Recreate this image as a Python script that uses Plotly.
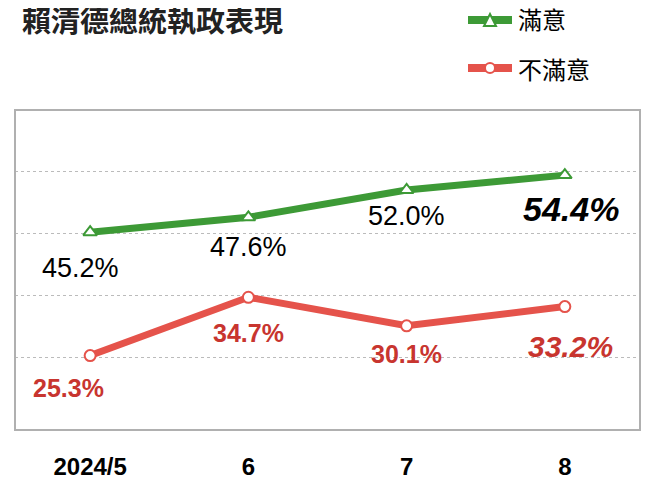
import plotly.graph_objects as go

months = ["2024/5", "6", "7", "8"]
satisfied = [45.2, 47.6, 52.0, 54.4]
unsatisfied = [25.3, 34.7, 30.1, 33.2]

GREEN = "#3d9a36"
RED = "#e5534b"
CJK = "Noto Sans CJK TC"

W, H = 656, 500
OFF = 8  # page body margin
L, T, PW, PH = 15 - OFF, 110 - OFF, 625, 320


def px(x):
    return (x - OFF - L) / PW


def py(y):
    return (T + PH - (y - OFF)) / PH


fig = go.Figure()
xi = list(range(len(months)))
fig.add_trace(go.Scatter(x=xi, y=satisfied, mode="lines+markers",
                         line=dict(color=GREEN, width=7),
                         marker=dict(symbol="triangle-up", size=12, color="white",
                                     line=dict(color=GREEN, width=2))))
fig.add_trace(go.Scatter(x=xi, y=unsatisfied, mode="lines+markers",
                         line=dict(color=RED, width=7),
                         marker=dict(symbol="circle", size=11, color="white",
                                     line=dict(color=RED, width=2))))

# value labels: (xshift, yshift) per point
sat_off = [(-10, -36), (0, -30), (0, -26), (6, -34)]
uns_off = [(-22, -32), (0, -36), (0, -28), (6, -40)]
for i, v in enumerate(satisfied):
    last = i == len(satisfied) - 1
    txt = f"<b><i>{v:.1f}%</i></b>" if last else f"{v:.1f}%"
    fig.add_annotation(x=i, y=v, text=txt, showarrow=False,
                       xshift=sat_off[i][0], yshift=sat_off[i][1],
                       font=dict(family="Arial", size=34 if last else 27, color="black"))
for i, v in enumerate(unsatisfied):
    last = i == len(unsatisfied) - 1
    txt = f"<b><i>{v:.1f}%</i></b>" if last else f"<b>{v:.1f}%</b>"
    fig.add_annotation(x=i, y=v, text=txt, showarrow=False,
                       xshift=uns_off[i][0], yshift=uns_off[i][1],
                       font=dict(family="Arial", size=30 if last else 25, color="#c8352f"))

# title
fig.add_annotation(xref="paper", yref="paper", x=px(20), y=py(45), xanchor="left",
                   yanchor="middle", yshift=26,
                   text="<b>賴清德總統執政表現</b>", showarrow=False,
                   font=dict(family=CJK, size=29, color="#222"))

# legend drawn by hand
shapes = [
    dict(type="rect", xref="paper", yref="paper", x0=0, x1=1, y0=0, y1=1,
         line=dict(color="#b0b0b0", width=2)),
    dict(type="line", xref="paper", yref="paper", x0=px(468), x1=px(512), y0=py(20), y1=py(20),
         line=dict(color=GREEN, width=8)),
    dict(type="line", xref="paper", yref="paper", x0=px(468), x1=px(512), y0=py(68), y1=py(68),
         line=dict(color=RED, width=8)),
    dict(type="path", xref="paper", yref="paper",
         path=f"M {px(484)} {py(26)} L {px(496)} {py(26)} L {px(490)} {py(14)} Z",
         fillcolor="white", line=dict(color=GREEN, width=2)),
    dict(type="circle", xref="paper", yref="paper", x0=px(485), x1=px(495), y0=py(73), y1=py(63),
         fillcolor="white", line=dict(color=RED, width=2)),
]
fig.add_annotation(xref="paper", yref="paper", x=px(516), y=py(20), xanchor="left", yshift=21,
                   text="滿意", showarrow=False, font=dict(family=CJK, size=24, color="black"))
fig.add_annotation(xref="paper", yref="paper", x=px(516), y=py(70), xanchor="left", yshift=21,
                   text="不滿意", showarrow=False, font=dict(family=CJK, size=24, color="black"))

fig.update_layout(
    width=W, height=H, shapes=shapes, showlegend=False,
    margin=dict(l=L, r=W - L - PW, t=T, b=H - T - PH),
    paper_bgcolor="white", plot_bgcolor="white",
    xaxis=dict(range=[-0.475, 3.475], tickvals=xi, ticktext=[f"<b>{m}</b>" for m in months],
               showgrid=False, zeroline=False, ticks="", ticklabelstandoff=20,
               tickfont=dict(family="Arial", size=24, color="black")),
    yaxis=dict(range=[13.3, 64.9], tickvals=[25, 35, 45, 55], showticklabels=False,
               showgrid=True, gridcolor="#bbbbbb", griddash="dot", gridwidth=1, zeroline=False),
)

fig.write_html("out.html")
